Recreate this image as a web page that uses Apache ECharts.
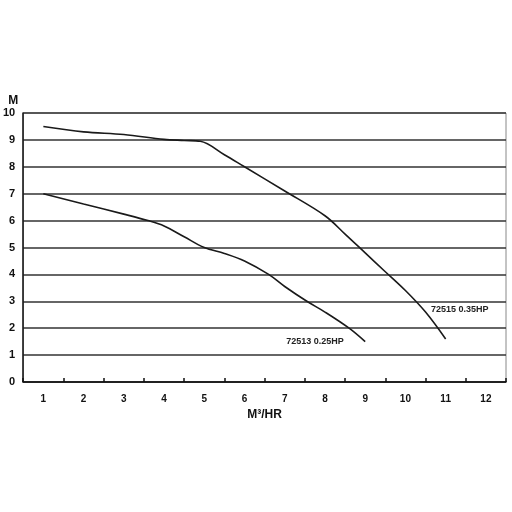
<!DOCTYPE html>
<html><head><meta charset="utf-8">
<script src="https://cdn.jsdelivr.net/npm/echarts@6/dist/echarts.min.js"></script>
<style>html,body{margin:0;padding:0;background:#fff}#c{width:512px;height:512px}</style>
</head><body><div id="c"></div>
<script>
var categories = ['1','2','3','4','5','6','7','8','9','10','11','12'];
var pump72515 = [[1,9.5],[2,9.3],[3,9.2],[4,9.02],[4.5,8.98],[4.9,8.95],[5.5,8.45],[6,8.0],[7,7.1],[8,6.18],[8.5,5.5],[9,4.8],[9.5,4.1],[10,3.4],[10.5,2.6],[11,1.6]];
var pump72513 = [[1,7],[2,6.62],[3,6.24],[3.6,6.0],[4,5.8],[4.5,5.4],[5,5.0],[5.5,4.78],[6,4.5],[6.6,4.0],[7,3.55],[7.55,3.0],[8,2.6],[8.6,2.0],[9,1.5]];
var yTicks = [0,1,2,3,4,5,6,7,8,9,10];
var label72515 = {name:'72515 0.35HP', coord:[11.35,2.7]};
var label72513 = {name:'72513 0.25HP', coord:[7.75,1.5]};

var chart = echarts.init(document.getElementById('c'));
var font = 'Liberation Sans, Arial, sans-serif';
function mk(l){return {coord:l.coord, value:l.name, symbol:'circle', symbolSize:0,
  label:{show:true, position:'inside', formatter:l.name, color:'#222', fontWeight:'bold', fontSize:9, fontFamily:font}};}
chart.setOption({
  animation:false,
  grid:{left:23, right:6, top:113, bottom:130, show:true, borderColor:'#888', borderWidth:1},
  xAxis:[{
    type:'category', data:categories, boundaryGap:true,
    axisLine:{lineStyle:{color:'#111', width:1.5}},
    axisTick:{show:true, inside:true, length:4, lineStyle:{color:'#111', width:1.5}},
    axisLabel:{color:'#111', fontWeight:'bold', fontSize:10, fontFamily:font, margin:12},
    name:'M³/HR', nameLocation:'middle', nameGap:26,
    nameTextStyle:{color:'#111', fontWeight:'bold', fontSize:12, fontFamily:font}
  },{
    type:'value', min:0.5, max:12.5, show:false
  }],
  yAxis:{
    type:'value', min:0, max:10, interval:1,
    axisLine:{show:true, lineStyle:{color:'#111', width:1.5}},
    axisTick:{show:false},
    splitLine:{show:true, lineStyle:{color:'#333', width:1.5}},
    axisLabel:{color:'#111', fontWeight:'bold', fontSize:11, fontFamily:font, margin:8,
      formatter:function(v){return yTicks.indexOf(v)>=0?String(v):'';}},
    name:'M', nameLocation:'end', nameGap:6,
    nameTextStyle:{color:'#111', fontWeight:'bold', fontSize:12, fontFamily:font, align:'right', padding:[0,5,0,0]}
  },
  series:[{
    type:'line', xAxisIndex:1, data:pump72515, smooth:0.35, symbol:'none',
    lineStyle:{color:'#1a1a1a', width:1.6},
    markPoint:{data:[mk(label72515)]}
  },{
    type:'line', xAxisIndex:1, data:pump72513, smooth:0.35, symbol:'none',
    lineStyle:{color:'#1a1a1a', width:1.6},
    markPoint:{data:[mk(label72513)]}
  }]
});
</script></body></html>
